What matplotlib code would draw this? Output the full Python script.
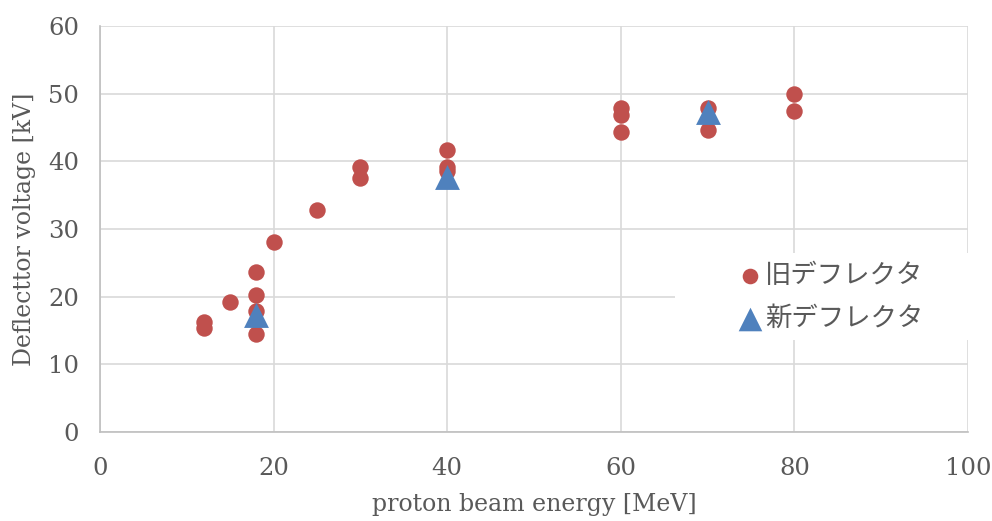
import matplotlib

matplotlib.use("Agg")
import matplotlib.pyplot as plt
from matplotlib.patches import Rectangle

# 旧デフレクタ (old deflector)
old_energy = [12, 12, 15, 18, 18, 18, 18, 20, 25, 30, 30, 40, 40, 40,
              60, 60, 60, 70, 70, 80, 80]
old_voltage = [16.3, 15.4, 19.2, 23.6, 20.2, 17.9, 14.5, 28.1, 32.8, 39.1, 37.6, 41.7, 39.2, 38.6,
               47.9, 46.9, 44.4, 47.9, 44.6, 50.0, 47.4]

# 新デフレクタ (new deflector)
new_energy = [18, 40, 70]
new_voltage = [17.3, 37.7, 47.3]

x_ticks = [0, 20, 40, 60, 80, 100]
y_ticks = [0, 10, 20, 30, 40, 50, 60]

RED = "#c0504d"
BLUE = "#4f81bd"
TEXT = "#595959"
GRID = "#d9d9d9"

plt.rcParams["font.family"] = ["DejaVu Serif", "Noto Sans CJK JP", "DejaVu Sans"]

fig = plt.figure(figsize=(9.92, 5.21), dpi=100)
ax = fig.add_axes([0.1008, 0.1708, 0.875, 0.7792])

ax.scatter(old_energy, old_voltage, s=140, marker="o", color=RED, linewidths=0,
           label="旧デフレクタ", zorder=3)
ax.scatter(new_energy, new_voltage, s=320, marker="^", color=BLUE, linewidths=0,
           label="新デフレクタ", zorder=4)

ax.set_xlim(0, 100)
ax.set_ylim(0, 60)
ax.set_xticks(x_ticks)
ax.set_yticks(y_ticks)
ax.grid(True, color=GRID, linewidth=1.2)
ax.set_axisbelow(True)
for side in ("top", "right"):
    ax.spines[side].set_visible(False)
for side in ("left", "bottom"):
    ax.spines[side].set_color("#bfbfbf")
    ax.spines[side].set_linewidth(1.2)
ax.tick_params(length=0, labelsize=17.5, labelcolor=TEXT, pad=15)
ax.tick_params(axis="x", pad=18)

ax.set_xlabel("proton beam energy [MeV]", fontsize=17, color=TEXT, labelpad=9)
ax.set_ylabel("Deflecttor voltage [kV]", fontsize=17, color=TEXT, labelpad=9)

# white legend area, as in the spreadsheet chart
ax.add_patch(Rectangle((0.662, 0.227), 0.34, 0.214, transform=ax.transAxes,
                       facecolor="white", edgecolor="none", zorder=2, clip_on=False))

leg = ax.legend(loc="center left", bbox_to_anchor=(0.718, 0.332), frameon=False,
                fontsize=19, labelcolor=TEXT, handletextpad=0.1, labelspacing=0.6,
                borderpad=0.5, handlelength=1.0, markerscale=0.95, borderaxespad=0)
for t in leg.get_texts():
    t.set_family(["Noto Sans CJK JP"])

fig.savefig("out.png", dpi=100, facecolor="white")
